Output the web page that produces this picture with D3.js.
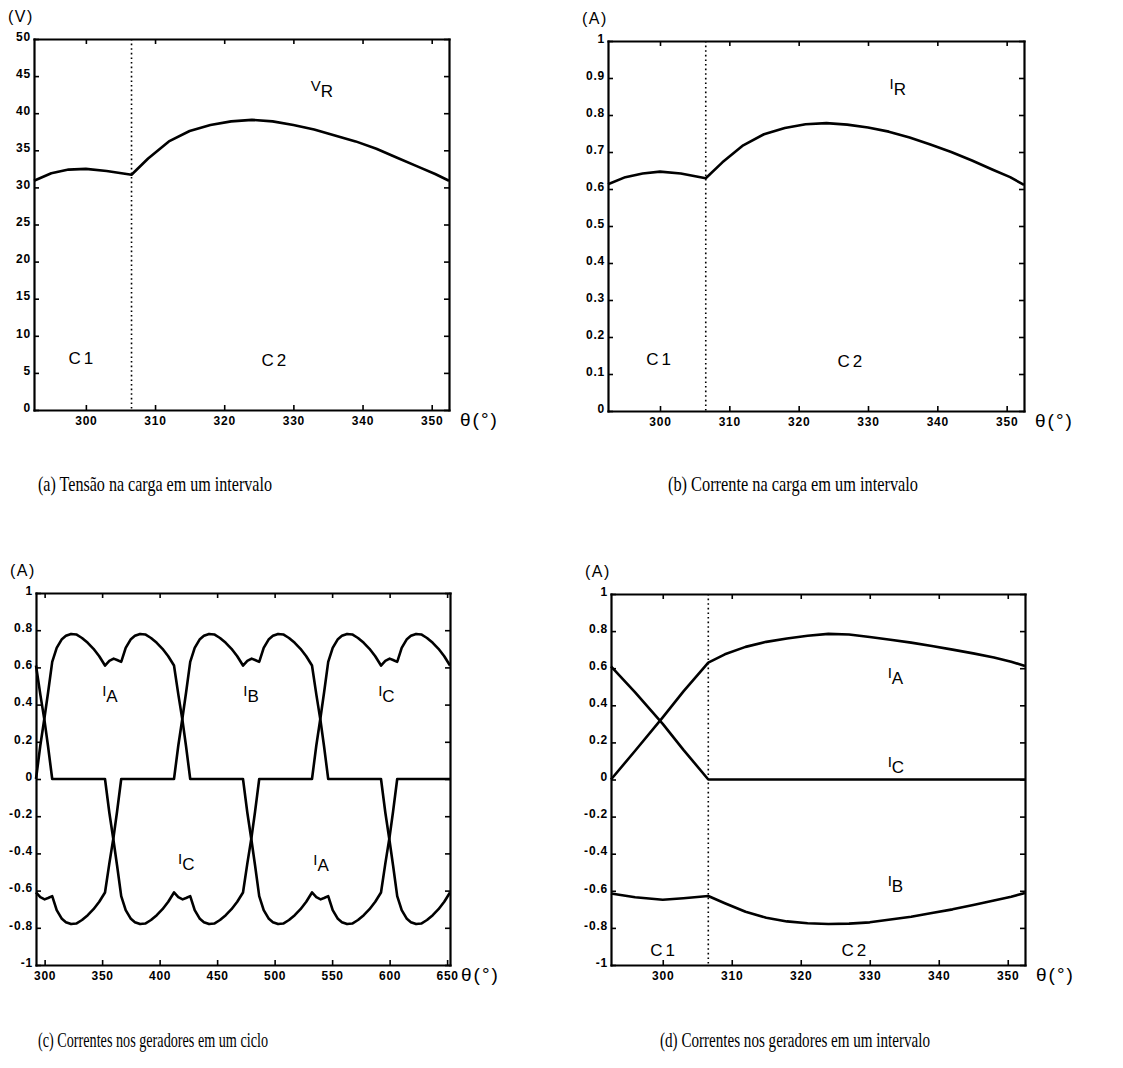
<!DOCTYPE html>
<html>
<head>
<meta charset="utf-8">
<script src="https://cdn.jsdelivr.net/npm/d3@7"></script>
<style>
  body { margin: 0; background: #fff; }
  svg { display: block; }
</style>
</head>
<body>
<script>
// ---- data ----

// (a) / (b): one 60 degree interval
const thetaAB = [292.5, 295, 297.5, 300, 303, 306.6, 309, 312, 315, 318, 321, 324, 327, 330, 333, 336, 339, 342, 345, 348, 350.5, 352.5];
const vR = [30.9, 31.9, 32.4, 32.5, 32.2, 31.7, 33.9, 36.2, 37.6, 38.4, 38.9, 39.1, 38.9, 38.4, 37.8, 37.0, 36.2, 35.2, 34.0, 32.8, 31.8, 30.9];
const iR = [0.613, 0.632, 0.642, 0.647, 0.642, 0.629, 0.672, 0.718, 0.748, 0.765, 0.775, 0.778, 0.774, 0.766, 0.755, 0.739, 0.72, 0.70, 0.677, 0.652, 0.632, 0.611];

// (c): one full cycle
const thetaC = [
  292.5, 296.25, 300, 303, 306.6, 310.5, 315, 318.5, 323, 327.5, 332.5, 337.5, 342.5, 347.5,
  352.5, 356.25, 360, 363, 366.6, 370.5, 375, 378.5, 383, 387.5, 392.5, 397.5, 402.5, 407.5,
  412.5, 416.25, 420, 423, 426.6, 430.5, 435, 438.5, 443, 447.5, 452.5, 457.5, 462.5, 467.5,
  472.5, 476.25, 480, 483, 486.6, 490.5, 495, 498.5, 503, 507.5, 512.5, 517.5, 522.5, 527.5,
  532.5, 536.25, 540, 543, 546.6, 550.5, 555, 558.5, 563, 567.5, 572.5, 577.5, 582.5, 587.5,
  592.5, 596.25, 600, 603, 606.6, 610.5, 615, 618.5, 623, 627.5, 632.5, 637.5, 642.5, 647.5,
  652.5
];
const iAc = [
  0, 0.18, 0.335, 0.465, 0.63, 0.705, 0.752, 0.77, 0.78, 0.777, 0.758, 0.732, 0.70, 0.66,
  0.61, 0.635, 0.647, 0.64, 0.63, 0.705, 0.752, 0.77, 0.78, 0.777, 0.758, 0.732, 0.70, 0.66,
  0.61, 0.455, 0.31, 0.175, 0, 0, 0, 0, 0, 0, 0, 0, 0, 0,
  0, -0.18, -0.335, -0.465, -0.63, -0.705, -0.752, -0.77, -0.78, -0.777, -0.758, -0.732, -0.70, -0.66,
  -0.61, -0.635, -0.647, -0.64, -0.63, -0.705, -0.752, -0.77, -0.78, -0.777, -0.758, -0.732, -0.70, -0.66,
  -0.61, -0.455, -0.31, -0.175, 0, 0, 0, 0, 0, 0, 0, 0, 0, 0,
  0
];
const iBc = [
  -0.61, -0.635, -0.647, -0.64, -0.63, -0.705, -0.752, -0.77, -0.78, -0.777, -0.758, -0.732, -0.70, -0.66,
  -0.61, -0.455, -0.31, -0.175, 0, 0, 0, 0, 0, 0, 0, 0, 0, 0,
  0, 0.18, 0.335, 0.465, 0.63, 0.705, 0.752, 0.77, 0.78, 0.777, 0.758, 0.732, 0.70, 0.66,
  0.61, 0.635, 0.647, 0.64, 0.63, 0.705, 0.752, 0.77, 0.78, 0.777, 0.758, 0.732, 0.70, 0.66,
  0.61, 0.455, 0.31, 0.175, 0, 0, 0, 0, 0, 0, 0, 0, 0, 0,
  0, -0.18, -0.335, -0.465, -0.63, -0.705, -0.752, -0.77, -0.78, -0.777, -0.758, -0.732, -0.70, -0.66,
  -0.61
];
const iCc = [
  0.61, 0.455, 0.31, 0.175, 0, 0, 0, 0, 0, 0, 0, 0, 0, 0,
  0, -0.18, -0.335, -0.465, -0.63, -0.705, -0.752, -0.77, -0.78, -0.777, -0.758, -0.732, -0.70, -0.66,
  -0.61, -0.635, -0.647, -0.64, -0.63, -0.705, -0.752, -0.77, -0.78, -0.777, -0.758, -0.732, -0.70, -0.66,
  -0.61, -0.455, -0.31, -0.175, 0, 0, 0, 0, 0, 0, 0, 0, 0, 0,
  0, 0.18, 0.335, 0.465, 0.63, 0.705, 0.752, 0.77, 0.78, 0.777, 0.758, 0.732, 0.70, 0.66,
  0.61, 0.635, 0.647, 0.64, 0.63, 0.705, 0.752, 0.77, 0.78, 0.777, 0.758, 0.732, 0.70, 0.66,
  0.61
];

// (d): generator currents in one interval
const thetaD = [292.5, 296, 300, 303, 306.6, 309, 312, 315, 318, 321, 324, 327, 330, 333, 336, 339, 342, 345, 348, 350.5, 352.5];
const iAd = [0, 0.155, 0.335, 0.475, 0.63, 0.675, 0.715, 0.742, 0.76, 0.775, 0.785, 0.782, 0.768, 0.753, 0.738, 0.72, 0.70, 0.68, 0.658, 0.635, 0.612];
const iBd = [-0.615, -0.635, -0.648, -0.64, -0.628, -0.667, -0.713, -0.745, -0.765, -0.775, -0.779, -0.777, -0.77, -0.755, -0.74, -0.72, -0.70, -0.677, -0.652, -0.632, -0.612];
const iCd = [0.61, 0.47, 0.30, 0.16, 0, 0, 0, 0, 0, 0, 0, 0, 0, 0, 0, 0, 0, 0, 0, 0, 0];

// ticks
const xTicksInterval = [300, 310, 320, 330, 340, 350];
const xTicksCycle = [300, 350, 400, 450, 500, 550, 600, 650];
const yTicksV = [0, 5, 10, 15, 20, 25, 30, 35, 40, 45, 50];
const yTicksI = [0, 0.1, 0.2, 0.3, 0.4, 0.5, 0.6, 0.7, 0.8, 0.9, 1];
const yTicksGen = [-1, -0.8, -0.6, -0.4, -0.2, 0, 0.2, 0.4, 0.6, 0.8, 1];

const switchAngle = 306.6; // end of commutation C1

const captions = [
  "(a) Tensão na carga em um intervalo",
  "(b) Corrente na carga em um intervalo",
  "(c) Correntes nos geradores em um ciclo",
  "(d) Correntes nos geradores em um intervalo"
];

// ---- drawing ----
const sans = "Arial, 'Liberation Sans', Helvetica, sans-serif";
const serif = "'Times New Roman', 'Liberation Serif', serif";

const svg = d3.select("body").append("svg")
  .attr("width", 1123)
  .attr("height", 1068);

svg.append("rect").attr("width", 1123).attr("height", 1068).attr("fill", "#fff");

const fmt = d => String(+d.toFixed(2));

function drawPanel(p) {
  const x = d3.scaleLinear().domain(p.xDomain).range([p.left, p.right]);
  const y = d3.scaleLinear().domain(p.yDomain).range([p.bottom, p.top]);
  const g = svg.append("g");

  g.append("g")
    .attr("transform", `translate(0,${p.bottom})`)
    .call(d3.axisBottom(x).tickValues(p.xTicks).tickSize(-5).tickSizeOuter(0).tickPadding(6).tickFormat(fmt));
  g.append("g")
    .attr("transform", `translate(0,${p.top})`)
    .call(d3.axisTop(x).tickValues(p.xTicks).tickSize(-5).tickSizeOuter(0).tickFormat(""));
  const yl = g.append("g")
    .attr("transform", `translate(${p.left},0)`)
    .call(d3.axisLeft(y).tickValues(p.yTicks).tickSize(-5).tickSizeOuter(0).tickPadding(3).tickFormat(fmt));
  g.append("g")
    .attr("transform", `translate(${p.right},0)`)
    .call(d3.axisRight(y).tickValues(p.yTicks).tickSize(-5).tickSizeOuter(0).tickFormat(""));

  g.selectAll(".domain")
    .attr("stroke", "#000")
    .attr("stroke-width", 2.2)
    .attr("stroke-linecap", "square");
  g.selectAll(".tick line").attr("stroke", "#000").attr("stroke-width", 1.6);
  g.selectAll(".tick text")
    .attr("fill", "#000")
    .attr("font-family", sans)
    .attr("font-size", 12)
    .attr("font-weight", "bold")
    .attr("letter-spacing", 0.8);
  yl.selectAll(".tick text").attr("dy", "0.1em");

  // switching instant
  if (p.switchAt != null) {
    g.append("line")
      .attr("x1", x(p.switchAt)).attr("x2", x(p.switchAt))
      .attr("y1", p.top).attr("y2", p.bottom)
      .attr("stroke", "#000")
      .attr("stroke-width", 1.6)
      .attr("stroke-dasharray", "1.6,3");
  }

  const line = d3.line().x(d => x(d[0])).y(d => y(d[1]));
  p.series.forEach(s => {
    g.append("path")
      .attr("d", line(d3.zip(s.theta, s.values)))
      .attr("fill", "none")
      .attr("stroke", "#000")
      .attr("stroke-width", 2.6)
      .attr("stroke-linejoin", "round");
  });

  p.labels.forEach(l => {
    const t = g.append("text")
      .attr("x", x(l.t))
      .attr("y", y(l.v))
      .attr("font-family", sans)
      .attr("font-size", 17)
      .attr("fill", "#000");
    if (l.sub) {
      t.append("tspan").attr("font-size", 15).text(l.main);
      t.append("tspan").attr("dy", 6).text(l.sub);
    } else {
      t.attr("letter-spacing", 3).text(l.main);
    }
  });

  g.append("text")
    .attr("x", p.left - 26)
    .attr("y", p.top - 17)
    .attr("font-family", sans)
    .attr("font-size", 16)
    .attr("letter-spacing", 1.5)
    .text(p.unit);

  g.append("text")
    .attr("x", p.right + 11)
    .attr("y", p.bottom + 16)
    .attr("font-family", sans)
    .attr("font-size", 19)
    .attr("letter-spacing", 2)
    .text("θ(°)");
}

drawPanel({
  left: 34, right: 449, top: 39, bottom: 410,
  xDomain: [292.5, 352.5], yDomain: [0, 50],
  xTicks: xTicksInterval, yTicks: yTicksV, unit: "(V)",
  switchAt: switchAngle,
  series: [{ theta: thetaAB, values: vR }],
  labels: [
    { t: 332.5, v: 43.0, main: "V", sub: "R" },
    { t: 297.5, v: 6.2, main: "C1" },
    { t: 325.4, v: 5.9, main: "C2" }
  ]
});

drawPanel({
  left: 608, right: 1024, top: 41, bottom: 411,
  xDomain: [292.5, 352.5], yDomain: [0, 1],
  xTicks: xTicksInterval, yTicks: yTicksI, unit: "(A)",
  switchAt: switchAngle,
  series: [{ theta: thetaAB, values: iR }],
  labels: [
    { t: 333.1, v: 0.87, main: "I", sub: "R" },
    { t: 298.0, v: 0.124, main: "C1" },
    { t: 325.6, v: 0.12, main: "C2" }
  ]
});

drawPanel({
  left: 36, right: 450, top: 593, bottom: 965,
  xDomain: [292.5, 652.5], yDomain: [-1, 1],
  xTicks: xTicksCycle, yTicks: yTicksGen, unit: "(A)",
  switchAt: null,
  series: [
    { theta: thetaC, values: iAc },
    { theta: thetaC, values: iBc },
    { theta: thetaC, values: iCc }
  ],
  labels: [
    { t: 350, v: 0.445, main: "I", sub: "A" },
    { t: 472.7, v: 0.445, main: "I", sub: "B" },
    { t: 590, v: 0.445, main: "I", sub: "C" },
    { t: 416, v: -0.455, main: "I", sub: "C" },
    { t: 533.6, v: -0.465, main: "I", sub: "A" }
  ]
});

drawPanel({
  left: 611, right: 1025, top: 594, bottom: 965,
  xDomain: [292.5, 352.5], yDomain: [-1, 1],
  xTicks: xTicksInterval, yTicks: yTicksGen, unit: "(A)",
  switchAt: switchAngle,
  series: [
    { theta: thetaD, values: iAd },
    { theta: thetaD, values: iBd },
    { theta: thetaD, values: iCd }
  ],
  labels: [
    { t: 332.6, v: 0.546, main: "I", sub: "A" },
    { t: 332.6, v: 0.067, main: "I", sub: "C" },
    { t: 332.6, v: -0.573, main: "I", sub: "B" },
    { t: 298.2, v: -0.95, main: "C1" },
    { t: 325.9, v: -0.95, main: "C2" }
  ]
});

// captions under each panel (condensed serif like the scan)
const captionPos = [[38, 491, 234], [668, 491, 250], [38, 1047, 230], [660, 1047, 270]];
svg.selectAll("text.caption")
  .data(captions)
  .enter()
  .append("text")
  .attr("class", "caption")
  .attr("x", (d, i) => captionPos[i][0])
  .attr("y", (d, i) => captionPos[i][1])
  .attr("textLength", (d, i) => captionPos[i][2])
  .attr("lengthAdjust", "spacingAndGlyphs")
  .attr("font-family", serif)
  .attr("font-size", 21)
  .attr("fill", "#000")
  .text(d => d);
</script>
</body>
</html>
